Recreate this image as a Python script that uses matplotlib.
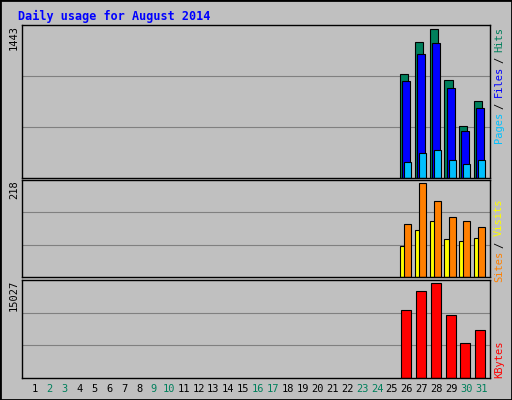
import numpy as np
import matplotlib
matplotlib.use("Agg")
import matplotlib.pyplot as plt

days = np.arange(1, 32)
active = np.array([26, 27, 28, 29, 30, 31])
hits = [981, 1283, 1405, 924, 490, 726]
files = [915, 1170, 1273, 849, 443, 660]
pages = [151, 236, 264, 170, 132, 170]
visits = [69, 105, 126, 85, 80, 87]
sites = [119, 211, 170, 135, 126, 112]
kbytes = [10487, 13305, 14557, 9704, 5323, 7358]
weekends = [2, 3, 9, 10, 16, 17, 23, 24, 30, 31]

W, H = 512, 400
bg = "#c0c0c0"
fig = plt.figure(figsize=(W / 100, H / 100), dpi=100, facecolor=bg)


def px_axes(x0, y0, x1, y1):
    return fig.add_axes([x0 / W, 1 - y1 / H, (x1 - x0) / W, (y1 - y0) / H])


def style(ax, top):
    ax.set_facecolor(bg)
    ax.set_xlim(0.126, 31.6)
    ax.set_ylim(0, top)
    ax.set_xticks([])
    ax.set_yticks([top / 3, 2 * top / 3])
    ax.tick_params(length=0, labelleft=False)
    ax.grid(axis="y", color="#808080", lw=0.8)
    ax.set_axisbelow(True)
    for s in ax.spines.values():
        s.set_color("black")
        s.set_linewidth(1)


ax1 = px_axes(22, 25, 490, 178)
style(ax1, 1443)
ax1.bar(active - 0.46, hits, width=0.54, align="edge", color="#00805c", edgecolor="black", lw=0.8)
ax1.bar(active - 0.32, files, width=0.54, align="edge", color="#0000ff", edgecolor="black", lw=0.8)
ax1.bar(active - 0.19, pages, width=0.47, align="edge", color="#00c0ff", edgecolor="black", lw=0.8)

ax2 = px_axes(22, 180, 490, 277)
style(ax2, 218)
ax2.bar(active - 0.46, visits, width=0.4, align="edge", color="#ffff00", edgecolor="black", lw=0.8)
ax2.bar(active - 0.19, sites, width=0.47, align="edge", color="#ff8000", edgecolor="black", lw=0.8)

ax3 = px_axes(22, 280, 490, 378)
style(ax3, 15027)
ax3.bar(active - 0.39, kbytes, width=0.67, align="edge", color="#ff0000", edgecolor="black", lw=0.8)

mono = "DejaVu Sans Mono"
fig.text(18 / W, 1 - 16 / H, "Daily usage for August 2014", color="#0000ff",
         fontweight="bold", family=mono, fontsize=8.5, va="center")

for y, lab in [(25, "1443"), (180, "218"), (280, "15027")]:
    fig.text(14 / W, 1 - y / H, lab, rotation=90, va="top", ha="center",
             family=mono, fontsize=7.5)


# right side legend, text reads bottom to top so the last word sits on top
def legend(parts, ytop):
    y = ytop
    for word, col in reversed(parts):
        fig.text(499 / W, 1 - y / H, word, rotation=90, va="top", ha="center",
                 color=col, family=mono, fontsize=7.5)
        y += len(word) * 7 + 2


legend([("Pages", "#00c0ff"), ("/", "black"), ("Files", "#0000ff"), ("/", "black"), ("Hits", "#00805c")], 27)
legend([("Sites", "#ff8000"), ("/", "black"), ("Visits", "#ffff00")], 198)
legend([("KBytes", "#ff0000")], 340)

for d in days:
    x = 35 + (d - 1) * 14.87
    fig.text(x / W, 1 - 389 / H, str(d), ha="center", va="center", family=mono,
             fontsize=7.5, color="#00805c" if d in weekends else "black")

fig.patches.append(plt.Rectangle((0, 0), 1, 1, transform=fig.transFigure,
                                 fill=False, edgecolor="black", lw=2))
fig.savefig("out.png", dpi=100, facecolor=bg)
